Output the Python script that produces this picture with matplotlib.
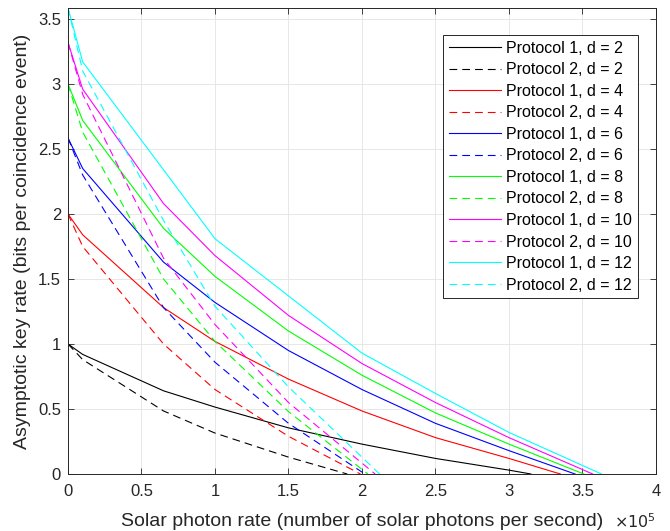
import numpy as np
import matplotlib
matplotlib.use("Agg")
import matplotlib.pyplot as plt
from matplotlib.ticker import FuncFormatter, MultipleLocator

plt.rcParams['font.family'] = ['Liberation Sans', 'DejaVu Sans']

# dimensions and colours (MATLAB-style pure colours)
dims = [2, 4, 6, 8, 10, 12]
colors = ['#000000', '#ff0000', '#0000ff', '#00ff00', '#ff00ff', '#00ffff']

# Protocol 1: solar photon rate (photons/s) and key rate
x_p1 = [0, 0.1e5, 0.65e5, 1.0e5, 1.5e5, 2.0e5, 2.5e5, 3.0e5]
p1_end = [3.15e5, 3.35e5, 3.45e5, 3.51e5, 3.57e5, 3.63e5]
p1_rates = [
    [1.0, 0.92, 0.64, 0.515, 0.355, 0.23, 0.12, 0.03],
    [2.0, 1.84, 1.28, 1.02, 0.73, 0.485, 0.28, 0.12],
    [2.585, 2.35, 1.63, 1.32, 0.95, 0.65, 0.39, 0.18],
    [3.0, 2.72, 1.89, 1.52, 1.10, 0.76, 0.47, 0.23],
    [3.32, 2.96, 2.08, 1.68, 1.22, 0.85, 0.55, 0.28],
    [3.585, 3.17, 2.34, 1.81, 1.37, 0.93, 0.62, 0.32],
]

# Protocol 2
x_p2 = [0, 0.1e5, 0.65e5, 1.0e5, 1.5e5]
p2_end = [1.90e5, 1.99e5, 2.02e5, 2.04e5, 2.09e5, 2.12e5]
p2_rates = [
    [1.0, 0.88, 0.485, 0.315, 0.13],
    [2.0, 1.75, 1.0, 0.65, 0.29],
    [2.585, 2.3, 1.28, 0.86, 0.39],
    [3.0, 2.63, 1.50, 1.02, 0.48],
    [3.32, 2.92, 1.66, 1.15, 0.55],
    [3.585, 3.1, 1.95, 1.29, 0.67],
]

scale = 1e5
axcol = '#262626'

fig = plt.figure(figsize=(6.7, 5.31), dpi=100)
ax = fig.add_axes([0.1015, 0.1073, 0.8775, 0.8777])

for i, d in enumerate(dims):
    x1 = np.array(x_p1 + [p1_end[i]]) / scale
    y1 = p1_rates[i] + [0]
    x2 = np.array(x_p2 + [p2_end[i]]) / scale
    y2 = p2_rates[i] + [0]
    ax.plot(x1, y1, '-', color=colors[i], lw=0.8, label=f'Protocol 1, d = {d}')
    ax.plot(x2, y2, '--', color=colors[i], lw=0.8, dashes=(7, 4.5),
            label=f'Protocol 2, d = {d}')

ax.set_xlim(0, 4)
ax.set_ylim(0, np.log2(12))
ax.xaxis.set_major_locator(MultipleLocator(0.5))
ax.yaxis.set_major_locator(MultipleLocator(0.5))
fmt = FuncFormatter(lambda v, pos: f'{v:g}')
ax.xaxis.set_major_formatter(fmt)
ax.yaxis.set_major_formatter(fmt)

ax.grid(True, color='#e3e3e3', lw=0.6)
ax.set_axisbelow(True)
ax.tick_params(direction='in', top=True, right=True, length=4, width=0.6,
               colors=axcol, labelsize=12, pad=5)
ax.tick_params(axis='x', pad=7.5)
for s in ax.spines.values():
    s.set_color(axcol)
    s.set_linewidth(0.7)

ax.set_xlabel('Solar photon rate (number of solar photons per second)',
              fontsize=14, color=axcol, labelpad=10)
ax.set_ylabel('Asymptotic key rate (bits per coincidence event)',
              fontsize=14, color=axcol, labelpad=5)
ax.text(1.0, -0.082, r'$\times10^{5}$', transform=ax.transAxes, ha='right',
        va='top', fontsize=11.5, color=axcol)

leg = ax.legend(loc='upper right', bbox_to_anchor=(0.969, 0.942), borderaxespad=0,
                fontsize=11.5, fancybox=False, framealpha=1, edgecolor=axcol,
                handlelength=3.3, handletextpad=0.3, labelspacing=0.41,
                borderpad=0.35)
leg.get_frame().set_linewidth(0.7)

fig.savefig('out.png', dpi=100)
